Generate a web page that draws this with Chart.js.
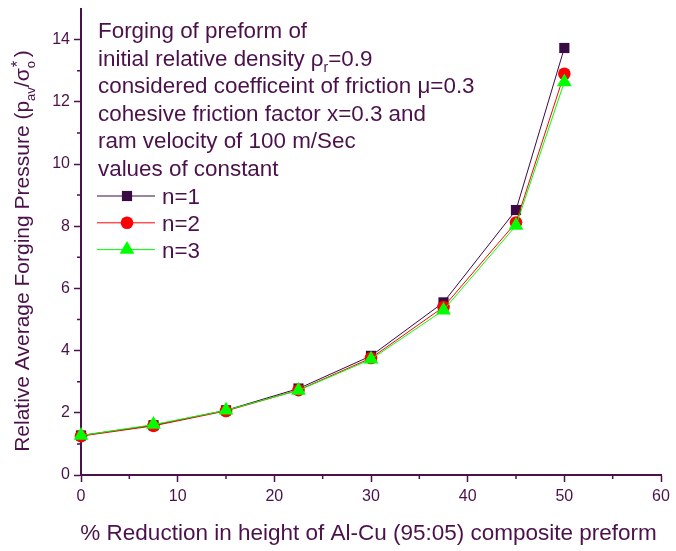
<!DOCTYPE html>
<html>
<head>
<meta charset="utf-8">
<script src="https://cdn.jsdelivr.net/npm/chart.js@4.4.1/dist/chart.umd.min.js"></script>
<style>
  html, body { margin: 0; padding: 0; background: #fff; }
  #wrap { width: 676px; height: 551px; }
</style>
</head>
<body>
<div id="wrap"><canvas id="chart"></canvas></div>
<script>
// % reduction in height and relative average forging pressure for each n
const reduction = [0, 7.5, 15, 22.5, 30, 37.5, 45, 50];
const pressureN1 = [1.27, 1.60, 2.08, 2.78, 3.83, 5.55, 8.52, 13.73];
const pressureN2 = [1.25, 1.58, 2.06, 2.73, 3.76, 5.40, 8.12, 12.90];
const pressureN3 = [1.27, 1.62, 2.08, 2.72, 3.72, 5.30, 8.02, 12.64];
const seriesNames = ["n=1", "n=2", "n=3"];
const xTicks = [0, 10, 20, 30, 40, 50, 60];
const yTicks = [0, 2, 4, 6, 8, 10, 12, 14];

// Annotation block; "lo" segments are subscripts, "stack" puts a sup over a sub
const noteLines = [
  [{ t: "Forging of preform of" }],
  [{ t: "initial relative density \u03c1" }, { t: "r", lo: true }, { t: "=0.9" }],
  [{ t: "considered coefficeint of friction \u03bc=0.3" }],
  [{ t: "cohesive friction factor x=0.3 and" }],
  [{ t: "ram velocity of 100 m/Sec" }],
  [{ t: "values of constant" }],
];

const ink = "#4b114b";
const FONT = "Arial, 'Liberation Sans', sans-serif";

function toPoints(ys) {
  return reduction.map((x, i) => ({ x: x, y: ys[i] }));
}

// draws a row of text segments, returns width
function drawSegments(ctx, segs, x, y, size) {
  let cx = x;
  const small = Math.round(size * 0.62) + "px " + FONT;
  segs.forEach((s) => {
    if (s.stack) {
      ctx.font = Math.round(size * 0.8) + "px " + FONT;
      ctx.fillText(s.hi, cx + 1, y - size * 0.3);
      ctx.font = small;
      ctx.fillText(s.low, cx, y + size * 0.28);
      cx += ctx.measureText(s.low).width + 4;
      return;
    }
    if (s.lo) {
      ctx.font = small;
      ctx.fillText(s.t, cx, y + size * 0.28);
    } else {
      ctx.font = size + "px " + FONT;
      ctx.fillText(s.t, cx, y);
    }
    cx += ctx.measureText(s.t).width;
  });
  return cx - x;
}

function segWidth(ctx, segs, size) {
  let w = 0;
  segs.forEach((s) => {
    ctx.font = Math.round(size * (s.lo || s.stack ? 0.62 : 1)) + "px " + FONT;
    if (s.stack) w += ctx.measureText(s.low).width + 4;
    else w += ctx.measureText(s.t).width;
  });
  return w;
}

const extras = {
  id: "extras",
  afterDraw(chart) {
    const ctx = chart.ctx;
    const xs = chart.scales.x;
    const ys = chart.scales.y;
    const area = chart.chartArea;
    ctx.save();

    // minor ticks
    ctx.strokeStyle = ink;
    ctx.lineWidth = 1.5;
    ctx.beginPath();
    for (let v = 5; v < 60; v += 10) {
      const px = xs.getPixelForValue(v);
      ctx.moveTo(px, area.bottom);
      ctx.lineTo(px, area.bottom + 4);
    }
    for (let v = 1; v < 15; v += 2) {
      const py = ys.getPixelForValue(v);
      ctx.moveTo(area.left, py);
      ctx.lineTo(area.left - 4, py);
    }
    ctx.stroke();

    ctx.fillStyle = ink;
    ctx.textBaseline = "alphabetic";
    ctx.textAlign = "left";

    // x axis title
    const xTitle = [{ t: "% Reduction in height of Al-Cu (95:05) composite preform" }];
    const xw = segWidth(ctx, xTitle, 22.5);
    drawSegments(ctx, xTitle, 375 - xw / 2, 540, 22.5);

    // y axis title
    const yTitle = [
      { t: "Relative Average Forging Pressure (p" },
      { t: "av", lo: true },
      { t: "/\u03c3" },
      { stack: true, hi: "*", low: "o" },
      { t: ")" },
    ];
    const yw = segWidth(ctx, yTitle, 21);
    ctx.save();
    ctx.translate(29, 251);
    ctx.rotate(-Math.PI / 2);
    drawSegments(ctx, yTitle, -yw / 2, 0, 21);
    ctx.restore();

    // annotation
    noteLines.forEach((segs, i) => {
      drawSegments(ctx, segs, 98, 38 + i * 27.6, 22.4);
    });

    // legend built from the datasets
    chart.data.datasets.forEach((ds, i) => {
      const y = 204 + i * 26.8;
      ctx.strokeStyle = ds.borderColor;
      ctx.lineWidth = 1;
      ctx.beginPath();
      ctx.moveTo(97, y - 8);
      ctx.lineTo(155, y - 8);
      ctx.stroke();
      ctx.fillStyle = ds.pointBackgroundColor;
      Chart.helpers.drawPoint(ctx, {
        pointStyle: ds.pointStyle,
        radius: ds.pointRadius,
        rotation: 0,
        borderWidth: 0,
      }, 127, y - 8);
      ctx.fillStyle = ink;
      ctx.font = "22.4px " + FONT;
      ctx.fillText(ds.label, 162, y);
    });

    ctx.restore();
  },
};

// later series are painted over the earlier ones
function makeSet(label, data, color, style, radius, order) {
  return {
    label: label,
    data: toPoints(data),
    borderColor: color,
    backgroundColor: color,
    pointBackgroundColor: color,
    pointBorderColor: color,
    pointBorderWidth: 0,
    borderWidth: 1,
    pointStyle: style,
    pointRadius: radius,
    pointHoverRadius: radius,
    tension: 0,
    clip: false,
    order: order,
  };
}

new Chart(document.getElementById("chart"), {
  type: "line",
  data: {
    datasets: [
      makeSet(seriesNames[0], pressureN1, "#3a0a44", "rect", 7.2, 3),
      makeSet(seriesNames[1], pressureN2, "#ff0000", "circle", 6.3, 2),
      makeSet(seriesNames[2], pressureN3, "#00ff00", "triangle", 8.5, 1),
    ],
  },
  options: {
    responsive: true,
    maintainAspectRatio: false,
    animation: false,
    events: [],
    layout: { padding: { top: 6, right: 15, left: 0, bottom: 0 } },
    plugins: { legend: { display: false }, tooltip: { enabled: false } },
    scales: {
      x: {
        type: "linear",
        min: 0,
        max: 60,
        afterFit(scale) { scale.height = 76; scale.paddingLeft = 0; scale.paddingRight = 0; },
        afterBuildTicks(scale) { scale.ticks = xTicks.map((v) => ({ value: v })); },
        ticks: { color: ink, font: { size: 16, family: FONT }, padding: 5, maxRotation: 0 },
        grid: { drawOnChartArea: false, drawTicks: true, tickLength: 7, tickColor: ink, tickWidth: 1.5 },
        border: { color: ink, width: 2 },
      },
      y: {
        type: "linear",
        min: 0,
        max: 15,
        afterFit(scale) { scale.width = 81; scale.paddingTop = 0; scale.paddingBottom = 0; },
        afterBuildTicks(scale) { scale.ticks = yTicks.map((v) => ({ value: v })); },
        ticks: { color: ink, font: { size: 16, family: FONT }, padding: 4 },
        grid: { drawOnChartArea: false, drawTicks: true, tickLength: 7, tickColor: ink, tickWidth: 1.5 },
        border: { color: ink, width: 2 },
      },
    },
  },
  plugins: [extras],
});
</script>
</body>
</html>
